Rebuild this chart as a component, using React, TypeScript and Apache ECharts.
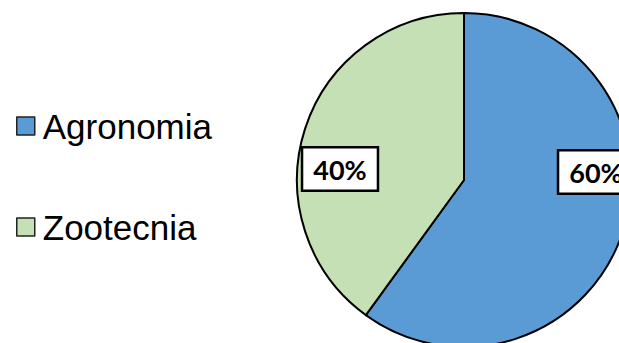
import React, { useEffect, useRef } from "react";
import * as echarts from "echarts";

const categories = ["Agronomia", "Zootecnia"];
const values = [60, 40];
const colors = ["#5B9BD5", "#C5E0B4"];
const labelCenters: [number, number][] = [
  [596, 172],
  [340, 169],
];

export default function App() {
  const ref = useRef<HTMLDivElement>(null);
  useEffect(() => {
    document.body.style.margin = "0";
    const chart = echarts.init(ref.current!, undefined, { renderer: "svg" });
    chart.setOption({
      animation: false,
      backgroundColor: "#ffffff",
      legend: {
        orient: "vertical",
        left: 16,
        top: 106,
        padding: 0,
        itemWidth: 18,
        itemHeight: 18,
        itemGap: 61,
        icon: "rect",
        data: categories,
        itemStyle: { borderColor: "#222", borderWidth: 1.5 },
        textStyle: {
          fontFamily: "Liberation Sans",
          fontSize: 35,
          lineHeight: 40,
          color: "#000",
          padding: [0, 0, 0, 3],
        },
      },
      series: [
        {
          type: "pie",
          center: [464, 180],
          radius: 167,
          startAngle: 90,
          clockwise: true,
          data: categories.map((name, i) => ({
            name,
            value: values[i],
            itemStyle: { color: colors[i] },
          })),
          itemStyle: { borderColor: "#000", borderWidth: 2 },
          emphasis: { disabled: true },
          label: {
            show: true,
            position: "inside",
            formatter: "{d}%",
            fontFamily: "Lato",
            fontWeight: "bold",
            fontSize: 27,
            color: "#000",
            backgroundColor: "#fff",
            borderColor: "#000",
            borderWidth: 2.5,
            padding: [8, 10, 6, 10],
          },
          labelLine: { show: false },
          labelLayout: (params: any) => ({
            x: labelCenters[params.dataIndex][0],
            y: labelCenters[params.dataIndex][1],
            align: "center",
            verticalAlign: "middle",
          }),
        },
      ],
    });
    return () => chart.dispose();
  }, []);
  return <div ref={ref} style={{ width: 619, height: 343 }} />;
}
